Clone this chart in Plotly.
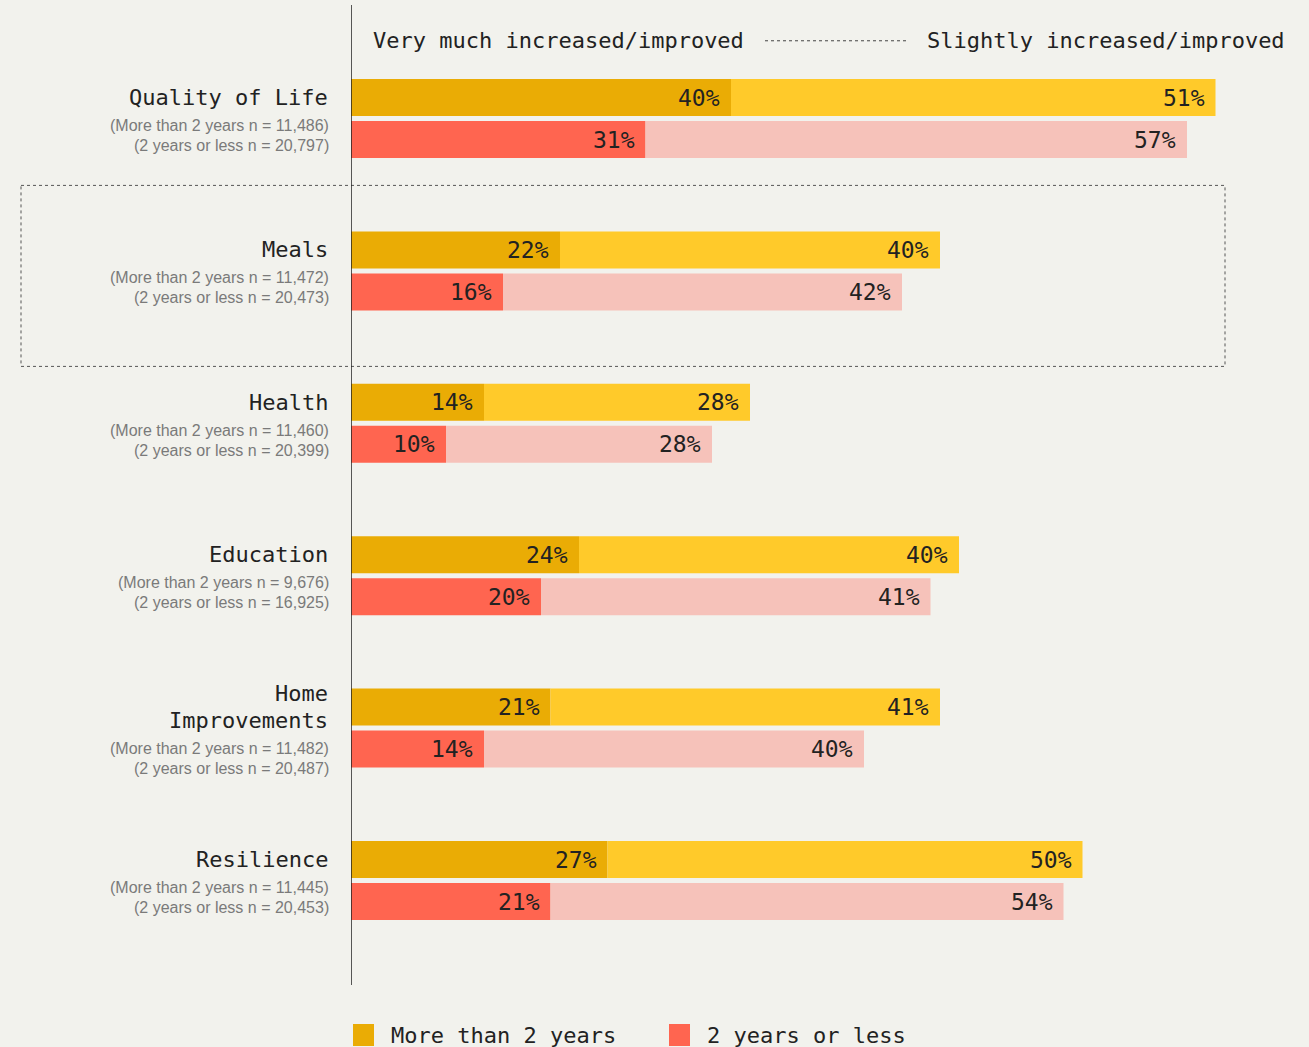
import plotly.graph_objects as go

# Survey outcomes, share of respondents (%)
categories = ["Quality of Life", "Meals", "Health", "Education", "Home<br>Improvements", "Resilience"]
more_very = [40, 22, 14, 24, 21, 27]
more_slight = [51, 40, 28, 40, 41, 50]
less_very = [31, 16, 10, 20, 14, 21]
less_slight = [57, 42, 28, 41, 40, 54]
n_more = ["11,486", "11,472", "11,460", "9,676", "11,482", "11,445"]
n_less = ["20,797", "20,473", "20,399", "16,925", "20,487", "20,453"]
group_names = ["More than 2 years", "2 years or less"]
header_left = "Very much increased/improved"
header_right = "Slightly increased/improved"

BG = "#F2F2ED"
GOLD_DARK = "#EAAC05"
GOLD_LIGHT = "#FFCA2A"
RED_DARK = "#FF6550"
RED_LIGHT = "#F6C2BA"
INK = "#222222"
MONO = "DejaVu Sans Mono"
NARROW = "Liberation Sans Narrow, Arial Narrow, Liberation Sans, sans-serif"

W, H = 1309, 1047
ML, MR, MT, MB = 351, 8, 5, 62
GROUP_PX = 152.4          # vertical distance between categories
OFF = 21 / GROUP_PX       # offset of each row from the category centre
BAR_W = 37 / GROUP_PX

idx = list(range(len(categories)))
y_more = [i - OFF for i in idx]
y_less = [i + OFF for i in idx]

fig = go.Figure()

def add_row(y, very, slight, c_dark, c_light):
    fig.add_trace(go.Bar(y=y, x=very, orientation="h", width=BAR_W,
                         marker=dict(color=c_dark, line=dict(width=0)),
                         hoverinfo="skip", showlegend=False))
    fig.add_trace(go.Bar(y=y, x=slight, base=very, orientation="h", width=BAR_W,
                         marker=dict(color=c_light, line=dict(width=0)),
                         hoverinfo="skip", showlegend=False))
    for yy, v, s in zip(y, very, slight):
        for xv, label in ((v, v), (v + s, s)):
            fig.add_annotation(x=xv, y=yy, xref="x", yref="y", text=f"{label}%",
                               xanchor="right", yanchor="middle", xshift=-9, showarrow=False,
                               font=dict(family=MONO, size=23, color=INK))

add_row(y_more, more_very, more_slight, GOLD_DARK, GOLD_LIGHT)
add_row(y_less, less_very, less_slight, RED_DARK, RED_LIGHT)

# Category labels with sample sizes
for i, cat in enumerate(categories):
    title_lines = cat.split("<br>")
    nt = len(title_lines)
    offs = [27 * k for k in range(nt)]
    offs += [offs[-1] + 28, offs[-1] + 48]
    mid = (offs[0] + offs[-1]) / 2
    shifts = [-(o - mid) - 3 for o in offs]
    for k, line in enumerate(title_lines):
        fig.add_annotation(x=0, y=i, xref="x", yref="y", text=line, showarrow=False,
                           xanchor="right", yanchor="middle", xshift=-21, yshift=shifts[k],
                           font=dict(family=MONO, size=22, color=INK))
    subs = [f"(More than 2 years n = {n_more[i]})", f"(2 years or less n = {n_less[i]})"]
    for k, line in enumerate(subs):
        fig.add_annotation(x=0, y=i, xref="x", yref="y", text=line, showarrow=False,
                           xanchor="right", yanchor="middle", xshift=-20, yshift=shifts[nt + k],
                           font=dict(family=NARROW, size=16, color="#7a7a7a"))

# Header: very much ..... slightly
fig.add_annotation(x=0, y=-0.51, xref="x", yref="y", text=header_left, showarrow=False,
                   xanchor="left", yanchor="middle", xshift=20,
                   font=dict(family=MONO, size=22, color=INK))
fig.add_annotation(x=1, y=-0.51, xref="paper", yref="y", text=header_right, showarrow=False,
                   xanchor="right", yanchor="middle", xshift=-14,
                   font=dict(family=MONO, size=22, color=INK))
fig.add_shape(type="line", xref="paper", yref="y", x0=(765 - ML) / (W - ML - MR),
              x1=(907 - ML) / (W - ML - MR), y0=-0.51, y1=-0.51,
              line=dict(color="#444444", width=1, dash="dot"))

# Dotted highlight box around Meals
fig.add_shape(type="rect", xref="paper", yref="y",
              x0=(21 - ML) / (W - ML - MR), x1=(1225 - ML) / (W - ML - MR),
              y0=1 - 85.5 / GROUP_PX, y1=1 + 95.5 / GROUP_PX,
              line=dict(color="#555555", width=1, dash="dot"), layer="below")

# Vertical baseline
fig.add_shape(type="line", xref="x", yref="paper", x0=0, x1=0, y0=0, y1=1,
              line=dict(color=INK, width=1.5))

# Legend drawn as swatches + text
pw = W - ML - MR
ph = H - MT - MB
def px_x(p):
    return (p - ML) / pw
def px_y(p):
    return 1 - (p - MT) / ph

for (sx, tx), name, col in zip([(353, 389), (669, 705)], group_names, [GOLD_DARK, RED_DARK]):
    fig.add_shape(type="rect", xref="paper", yref="paper",
                  x0=px_x(sx), x1=px_x(sx + 21), y0=px_y(1024), y1=px_y(1046),
                  fillcolor=col, line=dict(width=0))
    fig.add_annotation(x=px_x(tx), y=px_y(1035), xref="paper", yref="paper", text=name,
                       showarrow=False, xanchor="left", yanchor="middle",
                       font=dict(family=MONO, size=22, color=INK))

fig.update_layout(
    width=W, height=H,
    margin=dict(l=ML, r=MR, t=MT, b=MB),
    paper_bgcolor=BG, plot_bgcolor=BG,
    barmode="overlay",
    showlegend=False,
    xaxis=dict(range=[0, 100], visible=False, fixedrange=True),
    yaxis=dict(range=[(985 - 118.5) / GROUP_PX, -(118.5 - 5) / GROUP_PX],
               visible=False, fixedrange=True),
)

fig.write_html("out.html", config={"displayModeBar": False})
